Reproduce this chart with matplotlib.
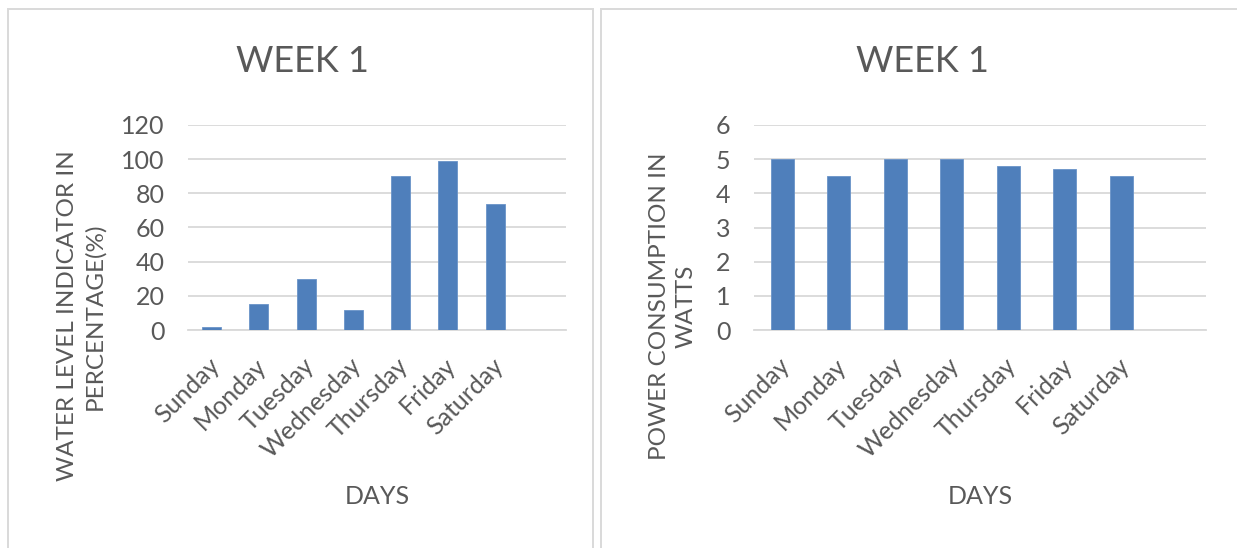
import matplotlib
matplotlib.use("Agg")
import matplotlib.pyplot as plt
import matplotlib.patches as patches
from matplotlib.transforms import ScaledTranslation

# weekly readings
days = ["Sunday", "Monday", "Tuesday", "Wednesday", "Thursday", "Friday", "Saturday"]
water_level = [2, 15, 30, 12, 90, 99, 74]
power_watts = [5.0, 4.5, 5.0, 5.0, 4.8, 4.7, 4.5]

water_ticks = [0, 20, 40, 60, 80, 100, 120]
power_ticks = [0, 1, 2, 3, 4, 5, 6]

W, H = 1237, 548
BAR = "#4f7fbb"
GRID = "#d9d9d9"
TEXT = "#595959"
FONT = ["Lato", "DejaVu Sans"]

plt.rcParams["font.family"] = FONT

fig = plt.figure(figsize=(W / 100, H / 100), dpi=100)
fig.patch.set_facecolor("white")


def px_box(x0, x1, ytop, ybot):
    return [x0 / W, (H - ybot) / H, (x1 - x0) / W, (ybot - ytop) / H]


# chart frames
for fx0, fx1 in [(8, 593), (601, 1245)]:
    fig.patches.append(patches.Rectangle(
        (fx0 / W, -0.05), (fx1 - fx0) / W, (H - 9) / H + 0.05,
        transform=fig.transFigure, facecolor="none", edgecolor=GRID, lw=1.4))


def draw(box, values, yticks, ylabel, ylabel_xy, title_x):
    ax = fig.add_axes(px_box(*box))
    ax.bar(range(len(values)), values, width=0.4, color=BAR,
           edgecolor="#6a93c8", linewidth=0.6, zorder=3)
    ax.set_xlim(-0.5, 7.5)
    ax.set_ylim(yticks[0], yticks[-1])
    ax.set_yticks(yticks)
    ax.set_xticks(range(len(days)))
    ax.set_xticklabels(days, rotation=45, ha="right", va="top",
                       rotation_mode="anchor", fontsize=18, color=TEXT)
    ax.tick_params(axis="both", length=0, colors=TEXT, labelsize=18)
    ax.tick_params(axis="y", pad=17)
    ax.tick_params(axis="x", pad=17)
    ax.grid(axis="y", color=GRID, lw=1.3, zorder=0)
    for s in ["top", "right", "left"]:
        ax.spines[s].set_visible(False)
    ax.spines["bottom"].set_color(GRID)
    ax.spines["bottom"].set_linewidth(1.3)
    off = ScaledTranslation(-4 / 100, 0, fig.dpi_scale_trans)
    for lab in ax.get_xticklabels():
        lab.set_transform(lab.get_transform() + off)

    fig.text(title_x / W, 1 - 61 / H, "WEEK 1", ha="center", va="center",
             fontsize=26, color=TEXT)
    fig.text(ylabel_xy[0] / W, 1 - ylabel_xy[1] / H, ylabel, rotation=90,
             ha="center", va="center", multialignment="center",
             fontsize=17.5, color=TEXT, linespacing=1.35)
    fig.text((box[0] + box[1]) / 2 / W, 1 - 496 / H, "DAYS", ha="center",
             va="center", fontsize=18, color=TEXT)
    return ax


draw((188, 566, 125, 330), water_level, water_ticks,
     "WATER LEVEL INDICATOR IN\nPERCENTAGE(%)", (81, 316), 303)
draw((754, 1206, 125, 330), power_watts, power_ticks,
     "POWER CONSUMPTION IN\nWATTS", (673, 306), 922)

fig.savefig("out.png", dpi=100)
